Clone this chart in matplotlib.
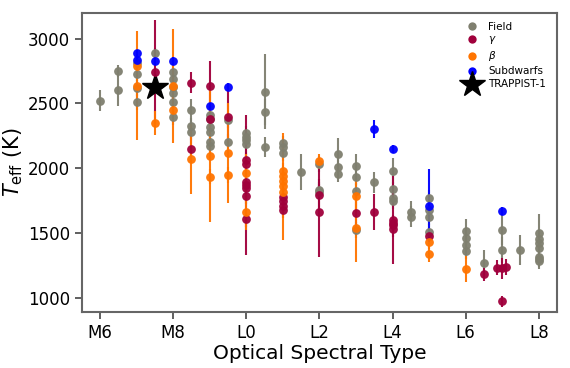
import matplotlib.pyplot as plt
from matplotlib.lines import Line2D
import numpy as np

# ---------------------------------------------------------------------------
# Data (spectral type: M6=6 ... L0=10 ... L8=18)
# ---------------------------------------------------------------------------
field_spt = [6.0, 6.5, 6.5, 7.0, 7.0, 7.0, 7.0, 7.5,
             8.0, 8.0, 8.0, 8.0, 8.0, 8.0, 8.5, 8.5, 8.5,
             9.0, 9.0, 9.0, 9.0, 9.0, 9.0, 9.5, 9.5,
             10.0, 10.0, 10.0, 10.0, 10.5, 10.5, 10.5,
             11.0, 11.0, 11.0, 11.5, 12.0, 12.0, 12.0,
             12.5, 12.5, 12.5, 13.0, 13.0, 13.0, 13.0, 13.5,
             14.0, 14.0, 14.0, 14.0, 14.5, 14.5,
             15.0, 15.0, 15.0, 15.0, 16.0, 16.0, 16.0, 16.0, 16.5,
             17.0, 17.0, 17.5, 18.0, 18.0, 18.0, 18.0, 18.0, 18.0, 18.0]
field_teff = [2520, 2750, 2600, 2810, 2730, 2620, 2512, 2885,
              2744, 2685, 2628, 2577, 2512, 2392, 2446, 2325, 2279,
              2410, 2377, 2320, 2282, 2205, 2174, 2370, 2205,
              2269, 2243, 2218, 2187, 2590, 2431, 2164,
              2192, 2161, 2120, 1972, 2034, 1833, 1820,
              2113, 2010, 1954, 2020, 1933, 1828, 1525, 1892,
              1977, 1838, 1769, 1748, 1667, 1628,
              1770, 1680, 1623, 1508, 1518, 1462, 1410, 1359, 1267,
              1528, 1367, 1372, 1500, 1456, 1428, 1385, 1320, 1300, 1282]
field_err = [80, 50, 120, 60, 60, 60, 60, 40,
             60, 60, 60, 60, 60, 60, 90, 60, 60,
             60, 60, 60, 60, 60, 60, 60, 60,
             60, 60, 60, 60, 290, 100, 80,
             60, 60, 60, 140, 60, 60, 60,
             120, 60, 60, 90, 60, 60, 60, 80,
             100, 60, 60, 60, 80, 80,
             60, 60, 60, 60, 90, 60, 60, 60, 100,
             120, 100, 115, 150, 60, 60, 60, 60, 60, 60]

gamma_spt = [7.5, 8.5, 8.5, 9.0, 9.0, 9.5,
             10.0, 10.0, 10.0, 10.0, 10.0, 10.0, 10.0,
             11.0, 11.0, 11.0, 11.0, 12.0, 12.0, 13.0, 13.5,
             14.0, 14.0, 14.0, 14.0, 15.0, 16.5, 16.85, 17.0, 17.1, 17.0]
gamma_teff = [2741, 2661, 2146, 2638, 2377, 2397,
              2064, 2033, 1897, 1872, 1846, 1787, 1610,
              1782, 1749, 1710, 1679, 1795, 1664, 1654, 1664,
              1600, 1580, 1560, 1530, 1479, 1182, 1235, 1228, 1240, 974]
gamma_err = [400, 80, 100, 190, 100, 200,
             60, 60, 60, 540, 60, 60, 60,
             60, 60, 60, 60, 120, 350, 100, 140,
             340, 60, 60, 60, 60, 50, 60, 80, 60, 40]

beta_spt = [7.0, 7.0, 7.5, 8.0, 8.0, 8.5, 9.0, 9.0, 9.5, 9.5,
            10.0, 10.0, 11.0, 11.0, 11.0, 11.0, 11.0, 12.0,
            13.0, 13.0, 15.0, 15.0, 16.0]
beta_teff = [2790, 2635, 2348, 2635, 2448, 2074, 2097, 1936, 2115, 1948,
             1964, 1664, 1980, 1940, 1900, 1860, 1820, 2054,
             1790, 1541, 1435, 1340, 1223]
beta_err = [80, 420, 90, 440, 60, 270, 510, 60, 385, 60,
            150, 140, 60, 60, 60, 410, 60, 60,
            120, 260, 60, 60, 100]

sd_spt = [7.0, 7.0, 7.5, 8.0, 9.0, 9.5, 13.5, 14.0, 15.0, 17.0]
sd_teff = [2885, 2838, 2828, 2826, 2477, 2625, 2302, 2146, 1713, 1674]
sd_err = [30, 30, 30, 30, 30, 30, 70, 30, 280, 30]

trappist_spt = 7.5
trappist_teff = 2623

tick_pos = [6, 8, 10, 12, 14, 16, 18]
tick_labels = ["M6", "M8", "L0", "L2", "L4", "L6", "L8"]

# ---------------------------------------------------------------------------
# Plot
# ---------------------------------------------------------------------------
GROUPS = [
    ("Field", field_spt, field_teff, field_err, "#7f7f6f"),
    (r"$\gamma$", gamma_spt, gamma_teff, gamma_err, "#a0003c"),
    (r"$\beta$", beta_spt, beta_teff, beta_err, "#ff7400"),
    ("Subdwarfs", sd_spt, sd_teff, sd_err, "#0000ff"),
]

fig = plt.figure(figsize=(5.7, 3.68), dpi=100)
ax = fig.add_axes([0.1433, 0.153, 0.834, 0.811])

handles = []
for label, x, y, e, color in GROUPS:
    ax.errorbar(x, y, yerr=e, fmt="o", color=color, ecolor=color,
                elinewidth=1.5, capsize=0, markersize=6.3,
                markeredgewidth=0, alpha=0.95)
    handles.append(Line2D([], [], marker="o", color=color, linestyle="none",
                          markersize=6.0, markeredgewidth=0, label=label))

ax.plot(trappist_spt, trappist_teff, marker="*", color="black",
        markersize=19, linestyle="none")
handles.append(Line2D([], [], marker="*", color="black", linestyle="none",
                      markersize=19, label="TRAPPIST-1"))

ax.set_xlim(5.5, 18.5)
ax.set_ylim(895, 3195)
ax.set_xticks(tick_pos)
ax.set_xticklabels(tick_labels)
ax.set_yticks([1000, 1500, 2000, 2500, 3000])
ax.tick_params(axis="both", labelsize=12, length=5, width=1.2,
               color="#444444", direction="out")
for s in ax.spines.values():
    s.set_color("#666666")
    s.set_linewidth(1.5)

ax.set_xlabel("Optical Spectral Type", fontsize=14.5, labelpad=2)
ax.set_ylabel(r"$T_{\rm eff}$ (K)", fontsize=15, labelpad=2)

ax.legend(handles=handles, loc="upper right", frameon=False, fontsize=7.5,
          labelspacing=0.28, handletextpad=0.8, borderaxespad=0.4,
          handlelength=1.6, bbox_to_anchor=(0.995, 1.0))

fig.savefig("out.png", dpi=100)
